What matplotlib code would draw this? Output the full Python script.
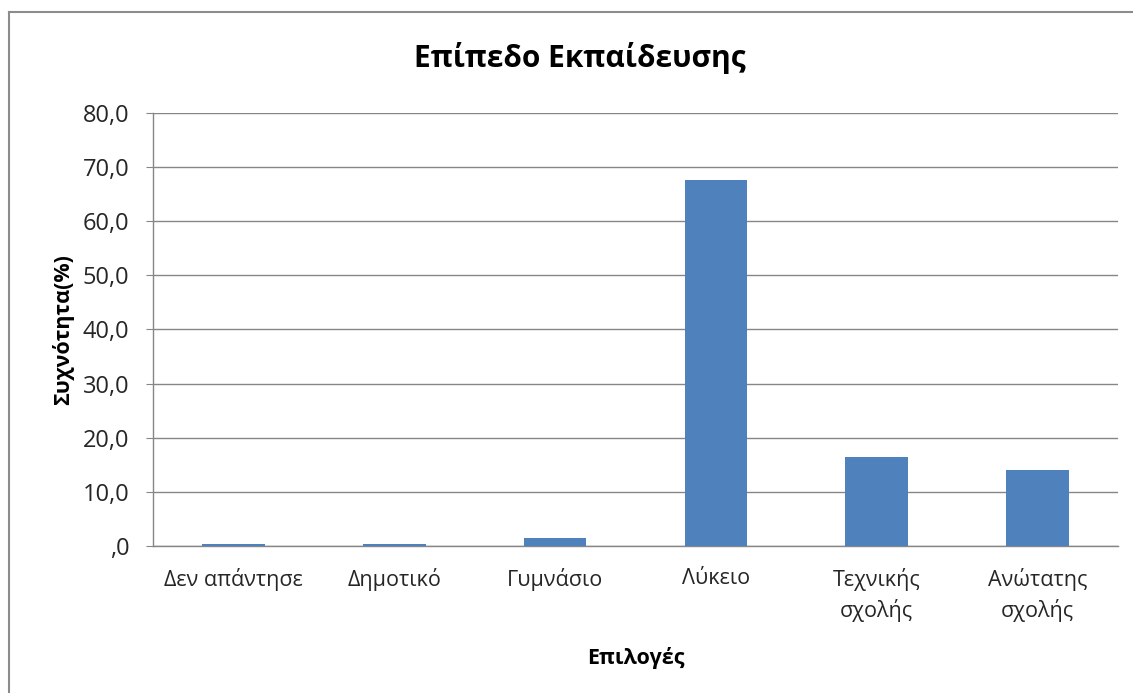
import matplotlib
matplotlib.use("Agg")
import matplotlib.pyplot as plt
from matplotlib.lines import Line2D
from matplotlib.ticker import FuncFormatter

categories = ["Δεν απάντησε", "Δημοτικό", "Γυμνάσιο", "Λύκειο", "Τεχνικής\nσχολής", "Ανώτατης\nσχολής"]
values = [0.4, 0.4, 1.4, 67.6, 16.4, 14.0]
yticks = [0, 10, 20, 30, 40, 50, 60, 70, 80]

plt.rcParams['font.family'] = ['Open Sans', 'DejaVu Sans']

fig = plt.figure(figsize=(11.33, 6.93), dpi=100)
ax = fig.add_axes([0.135, 0.2121, 0.8518, 0.6249])

x = list(range(len(categories)))
ax.bar(x, values, width=0.39, color='#4F81BD', zorder=3)
ax.set_xlim(-0.5, len(categories) - 0.5)
ax.set_ylim(0, 80)
ax.set_yticks(yticks)

def fmt(v, pos):
    s = f"{v:.1f}".replace('.', ',')
    if s.startswith('0,'):
        s = s[1:]
    return s

ax.yaxis.set_major_formatter(FuncFormatter(fmt))
ax.set_xticks(x)
ax.set_xticklabels(categories, fontsize=15.5, color='#262626', linespacing=1.45)
ax.tick_params(axis='x', length=0, pad=16)
ax.tick_params(axis='y', length=5, color='#868686', labelsize=17, labelcolor='#262626', pad=12)
ax.grid(axis='y', color='#868686', linewidth=1, zorder=0)
for s in ['top', 'right']:
    ax.spines[s].set_visible(False)
for s in ['left', 'bottom']:
    ax.spines[s].set_color('#868686')
    ax.spines[s].set_linewidth(1)

ax.set_ylabel("Συχνότητα(%)", fontsize=15.5, fontweight='bold', labelpad=6)
ax.set_xlabel("Επιλογές", fontsize=15.5, fontweight='bold', labelpad=18)
fig.text(0.512, 0.916, "Επίπεδο Εκπαίδευσης", fontsize=21.5, fontweight='bold',
         ha='center', va='center')

# outer chart frame
fig.add_artist(Line2D([9/1133, 9/1133], [0, 1 - 12/693], color='#8c8c8c', lw=1.5,
                      transform=fig.transFigure))
fig.add_artist(Line2D([9/1133, 1], [1 - 12/693, 1 - 12/693], color='#8c8c8c', lw=1.5,
                      transform=fig.transFigure))

fig.savefig("out.png", dpi=100)
